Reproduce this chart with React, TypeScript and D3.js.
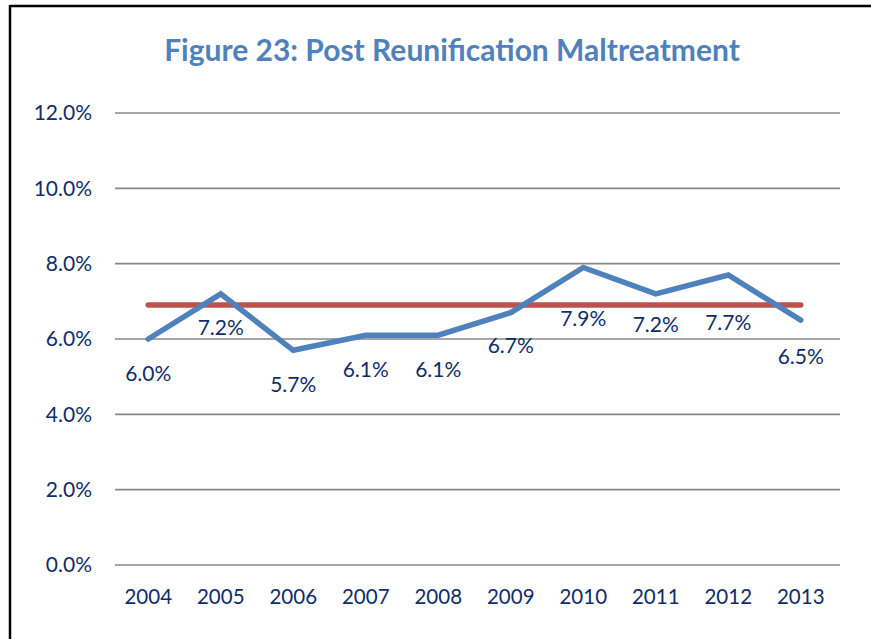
import React from "react";
import * as d3 from "d3";

const years = ["2004", "2005", "2006", "2007", "2008", "2009", "2010", "2011", "2012", "2013"];
const rates = [6.0, 7.2, 5.7, 6.1, 6.1, 6.7, 7.9, 7.2, 7.7, 6.5];
const averageRate = 6.9;
const yTicks = [0, 2, 4, 6, 8, 10, 12];
const titleText = "Figure 23: Post Reunification Maltreatment";

// label vertical nudges (layout only)
const labelDy = [35, 34, 34, 34, 34, 33, 51, 31, 48, 36];

const W = 871;
const H = 639;
const plotLeft = 115;
const plotRight = 840;
const plotTop = 113;
const plotBottom = 565;
const font = "Lato, 'Open Sans', sans-serif";

export default function App() {
  const x = d3.scaleBand<string>().domain(years).range([plotLeft - 3, plotRight - 3]);
  const y = d3.scaleLinear().domain([0, 12]).range([plotBottom, plotTop]);
  const cx = (yr: string) => (x(yr) as number) + x.bandwidth() / 2;
  const line = d3
    .line<number>()
    .x((_, i) => cx(years[i]))
    .y((d) => y(d));
  const navy = "#0F2D69";

  return (
    <svg
      width={W}
      height={H}
      style={{ position: "absolute", left: 0, top: 0, background: "#fff" }}
      fontFamily={font}
    >
      <rect x={0} y={0} width={W} height={H} fill="#fff" />
      {/* frame */}
      <line x1={10} y1={6} x2={W} y2={6} stroke="#000" strokeWidth={2.5} />
      <line x1={10} y1={5} x2={10} y2={H} stroke="#000" strokeWidth={2.5} />

      <text
        x={452}
        y={61}
        textAnchor="middle"
        fontSize={30}
        fontWeight="bold"
        fill="#4F81BD"
      >
        {titleText}
      </text>

      {yTicks.map((t) => (
        <g key={t}>
          <line x1={plotLeft} x2={plotRight} y1={y(t)} y2={y(t)} stroke="#888" strokeWidth={1.6} />
          <text x={92} y={y(t)} dy="0.35em" textAnchor="end" fontSize={21} fill={navy}>
            {t.toFixed(1) + "%"}
          </text>
        </g>
      ))}

      {years.map((yr) => (
        <text key={yr} x={cx(yr)} y={604} textAnchor="middle" fontSize={20.5} fill={navy}>
          {yr}
        </text>
      ))}

      <line
        x1={cx(years[0])}
        x2={cx(years[years.length - 1])}
        y1={y(averageRate)}
        y2={y(averageRate)}
        stroke="#C0504D"
        strokeWidth={5.5}
        strokeLinecap="round"
      />

      <path
        d={line(rates) || ""}
        fill="none"
        stroke="#4F81BD"
        strokeWidth={5.5}
        strokeLinejoin="miter"
        strokeLinecap="round"
      />

      {rates.map((v, i) => (
        <text
          key={i}
          x={cx(years[i])}
          y={y(v) + labelDy[i]}
          dy="0.35em"
          textAnchor="middle"
          fontSize={21}
          fill={navy}
        >
          {v.toFixed(1) + "%"}
        </text>
      ))}
    </svg>
  );
}
